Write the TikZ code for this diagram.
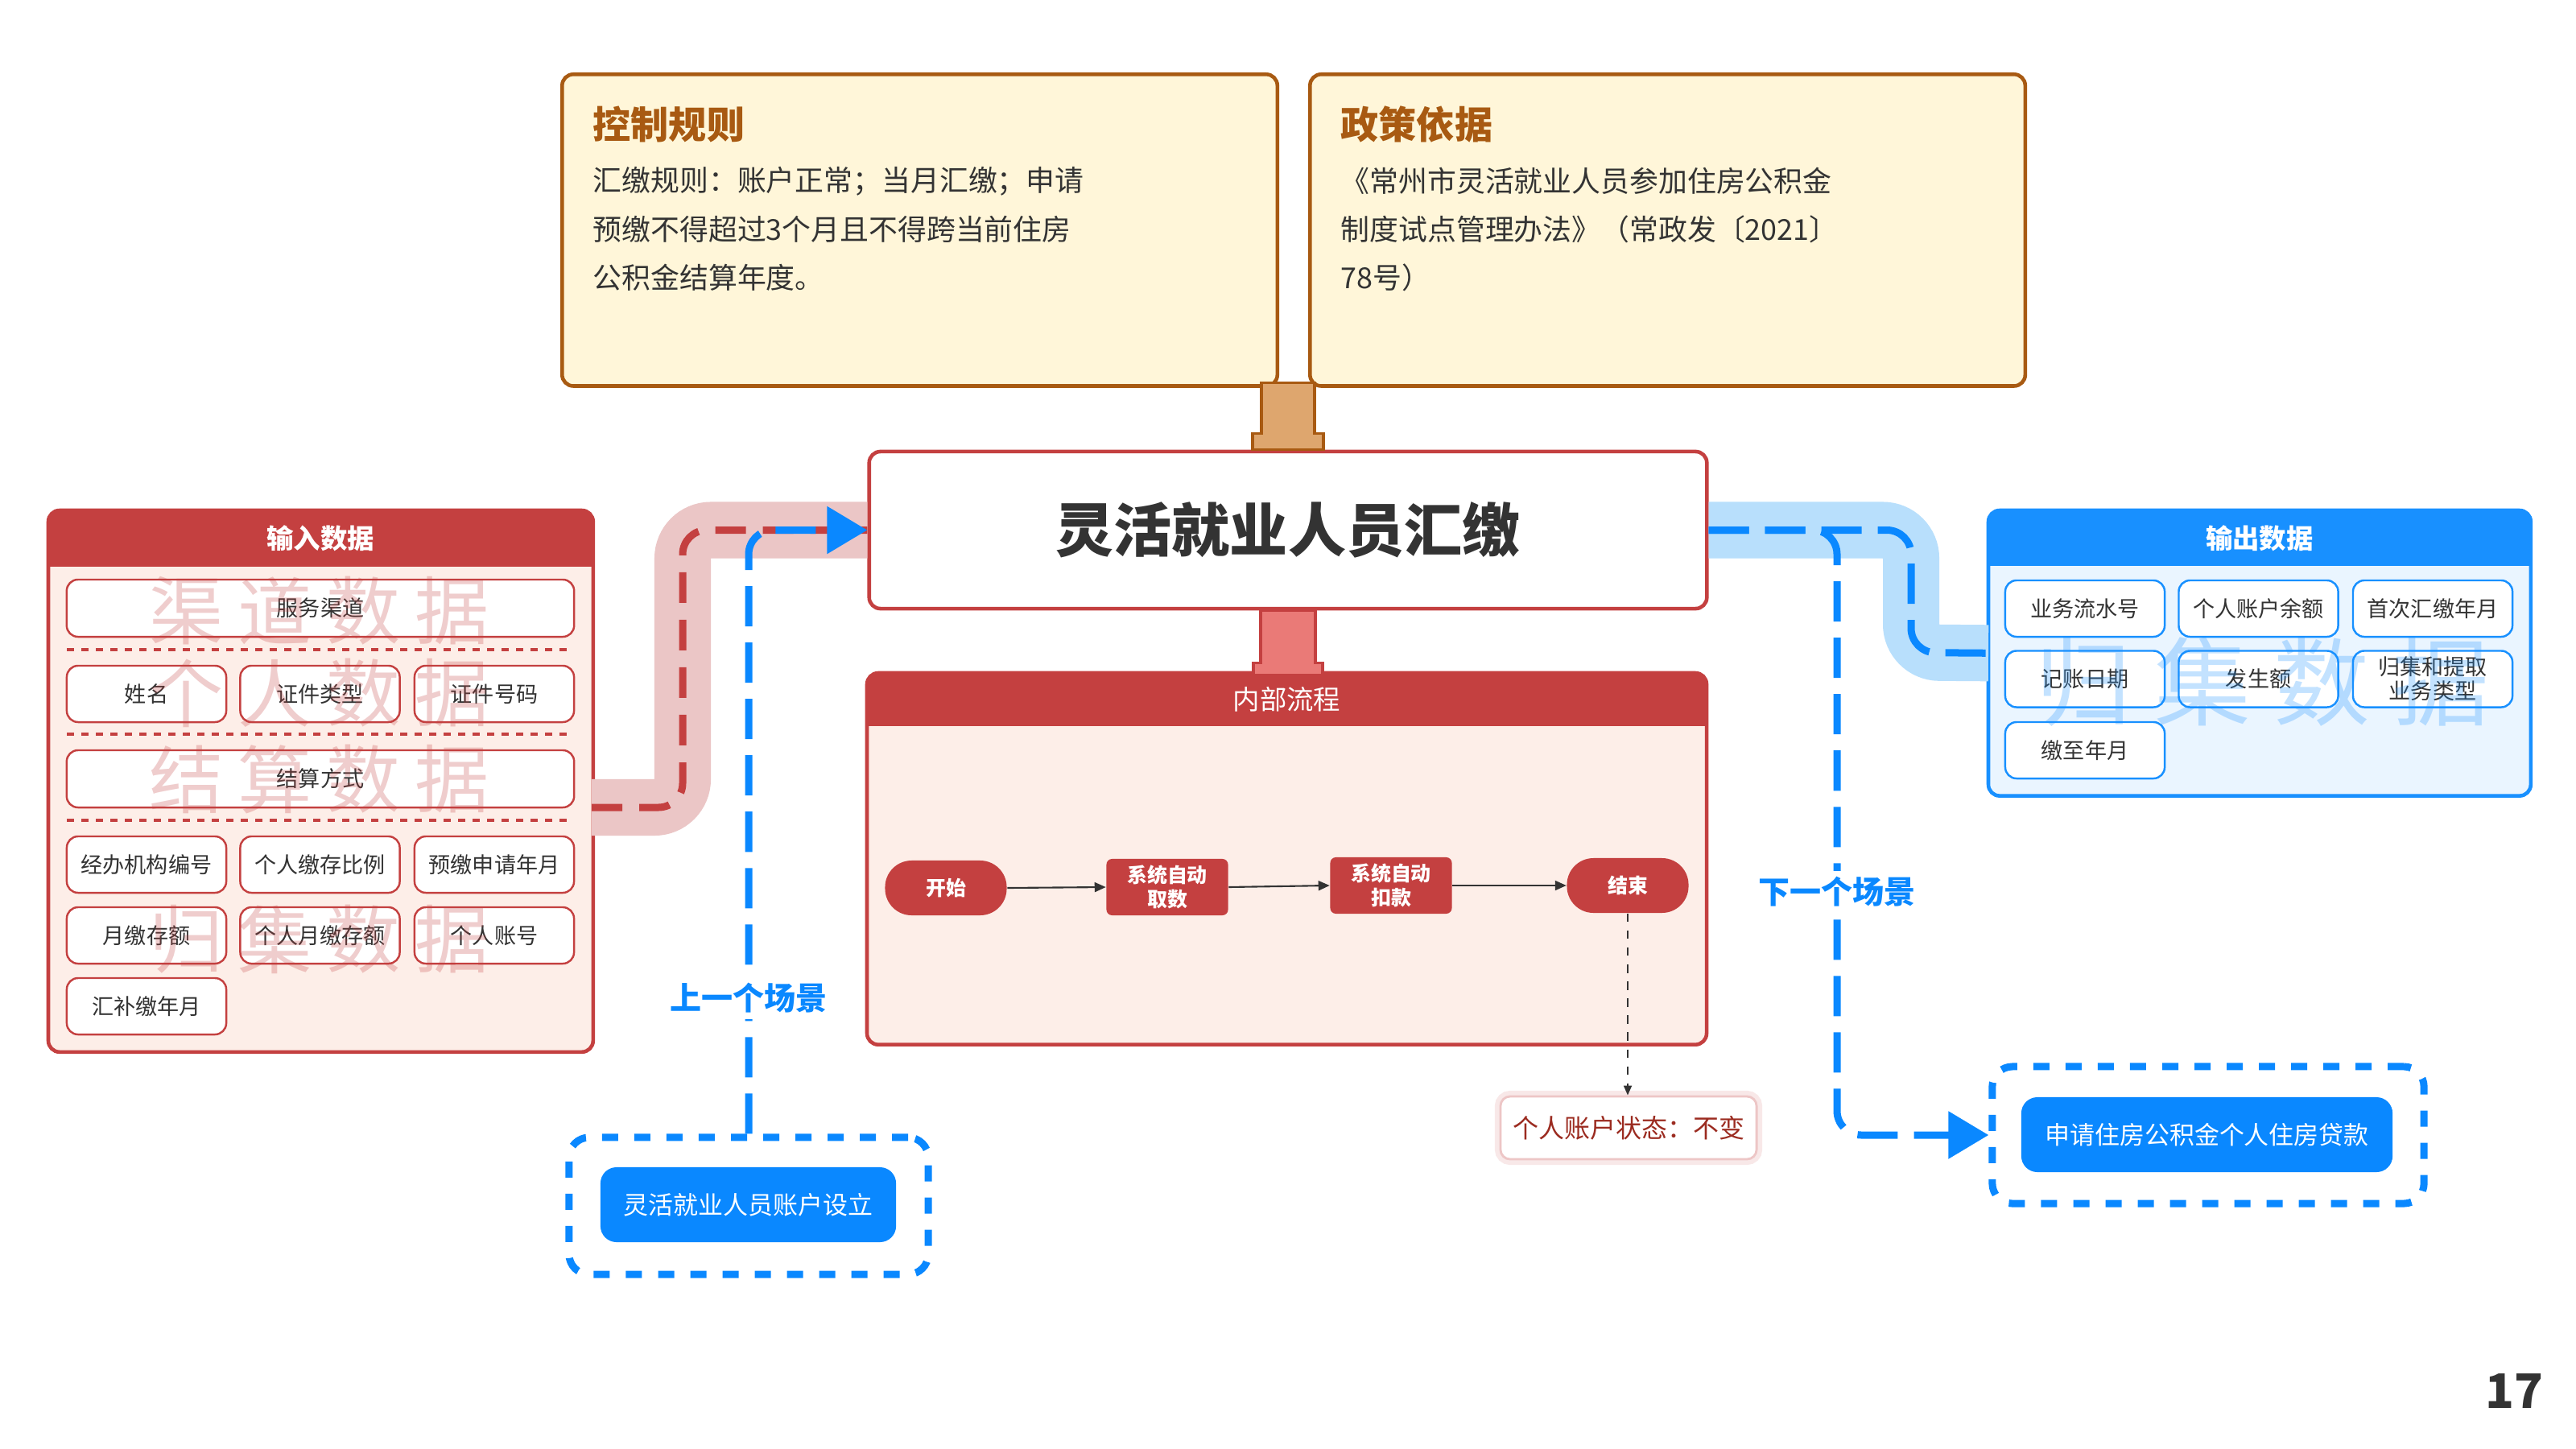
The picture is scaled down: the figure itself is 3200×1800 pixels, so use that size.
\documentclass[tikz,border=0pt]{standalone}
\usepackage{fontspec}
\setmainfont{Noto Sans CJK SC}
\usetikzlibrary{arrows.meta,calc}
\definecolor{cred}{HTML}{C44040}
\definecolor{cpink}{HTML}{FDEEE8}
\definecolor{cband}{HTML}{EBC6C6}
\definecolor{cbrown}{HTML}{A85A12}
\definecolor{cyellow}{HTML}{FFF6D9}
\definecolor{ctan}{HTML}{DEA66E}
\definecolor{csalmon}{HTML}{EA7A77}
\definecolor{cblue}{HTML}{1890FF}
\definecolor{cbtn}{HTML}{0A88FF}
\definecolor{cbluebg}{HTML}{EAF5FF}
\definecolor{cbandb}{HTML}{B8DFFC}
\definecolor{ctext}{HTML}{333333}
\definecolor{cdred}{HTML}{9B2B20}
\begin{document}
\begin{tikzpicture}[x=0.01cm,y=-0.01cm,
  rulebox/.style={draw=cbrown, line width=1.3pt, fill=cyellow, rounded corners=0.14cm, minimum width=8.88cm, minimum height=3.87cm, inner sep=0, anchor=north west},
  ruletitle/.style={anchor=west, inner sep=0, text=cbrown, font=\fontsize{13.4}{16}\selectfont\bfseries},
  rulebody/.style={anchor=west, inner sep=0, text=ctext, font=\fontsize{10.2}{12}\selectfont},
  headtext/.style={text=white, inner sep=0, font=\fontsize{9.5}{11}\selectfont\bfseries},
  pill/.style={fill=cred, rounded corners=0.33cm, minimum width=1.51cm, minimum height=0.68cm, text=white, font=\fontsize{7.1}{8.6}\selectfont\bfseries, inner sep=0, align=center},
  flowbox/.style={fill=cred, rounded corners=0.07cm, minimum width=1.51cm, minimum height=0.70cm, text=white, font=\fontsize{7.1}{8.6}\selectfont\bfseries, inner sep=0, align=center},
  flowarrow/.style={draw=ctext, line width=0.6pt, -{Triangle[length=0.14cm,width=0.12cm]}},
  initem/.style={fill=white, draw=cred, line width=0.7pt, rounded corners=0.14cm, text=ctext, font=\fontsize{7.7}{8.6}\selectfont, inner sep=0, align=center, minimum width=1.98cm, minimum height=0.70cm},
  outitem/.style={initem, draw=cblue},
  sepline/.style={draw=cred, line width=0.9pt, dash pattern=on 0.09cm off 0.09cm},
  wmred/.style={text=cred, opacity=0.26, inner sep=0, font=\fontsize{26.2}{28}\selectfont},
  wmblue/.style={text=cblue, opacity=0.26, inner sep=0, font=\fontsize{34}{36}\selectfont},
  bdash/.style={draw=cbtn, line width=0.09cm, dash pattern=on 0.5cm off 0.2cm, rounded corners=0.3cm},
  rdash/.style={draw=cred, line width=0.09cm, dash pattern=on 0.38cm off 0.21cm, rounded corners=0.3cm},
  bigtip/.style={-{Triangle[length=0.5cm,width=0.57cm]}},
  dbox/.style={draw=cbtn, line width=0.09cm, dash pattern=on 0.2cm off 0.2cm, rounded corners=0.25cm, minimum width=#1, inner sep=0, minimum height=1.70cm},
  btn/.style={fill=cbtn, rounded corners=0.2cm, text=white, inner sep=0, minimum height=0.93cm, font=\fontsize{8.8}{10}\selectfont},
  scenelabel/.style={text=cbtn, fill=white, inner sep=2pt, font=\fontsize{11.1}{13}\selectfont\bfseries},
  statebox/.style={fill=white, draw=cred!30, line width=0.8pt, rounded corners=0.12cm, minimum width=3.18cm, minimum height=0.78cm, inner sep=0, text=cdred, font=\fontsize{9.1}{11}\selectfont, preaction={draw=cred!12, line width=4pt}}
]
\useasboundingbox[fill=white] (0,0) rectangle (3200,1800);

% ---------- rule boxes ----------
\node[rulebox] (ctrl) at (696,90) {};
\node[ruletitle] (ctrlt) at (736,154) {控制规则};
\node[rulebody] (ctrl1) at (736,225) {汇缴规则：账户正常；当月汇缴；申请};
\node[rulebody] (ctrl2) at (736,285) {预缴不得超过3个月且不得跨当前住房};
\node[rulebody] (ctrl3) at (736,345) {公积金结算年度。};
\node[rulebox] (pol) at (1625,90) {};
\node[ruletitle] (polt) at (1665,154) {政策依据};
\node[rulebody] (pol1) at (1665,225) {《常州市灵活就业人员参加住房公积金};
\node[rulebody] (pol2) at (1665,285) {制度试点管理办法》（常政发〔2021〕};
\node[rulebody] (pol3) at (1665,345) {78号）};

% ---------- main box ----------
\node[draw=cred, line width=1.3pt, fill=white, rounded corners=0.14cm, minimum width=10.40cm, minimum height=1.95cm, inner sep=0, font=\fontsize{20.5}{24}\selectfont\bfseries, text=ctext] (main) at (1600,658.5) {灵活就业人员汇缴};

% tan link
\draw[cbrown, fill=ctan, line width=1pt] ($(main.north)+(-33,-83)$) -- ($(main.north)+(33,-83)$) -- ($(main.north)+(33,-20)$) -- ($(main.north)+(44,-20)$) -- ($(main.north)+(44,0)$) -- ($(main.north)+(-44,0)$) -- ($(main.north)+(-44,-20)$) -- ($(main.north)+(-33,-20)$) -- cycle;

% ---------- process container ----------
\node[inner sep=0, minimum width=10.41cm, minimum height=4.60cm, anchor=north west, fill=cpink, rounded corners=0.14cm] (proc) at (1077,836) {};
\begin{scope}
\clip[rounded corners=0.14cm] (proc.north west) rectangle (proc.south east);
\fill[cred] (proc.north west) rectangle ($(proc.north east)+(0,66)$);
\end{scope}
\draw[cred, line width=1.3pt, rounded corners=0.14cm] (proc.north west) rectangle (proc.south east);
\node[headtext, font=\fontsize{9.5}{11}\selectfont] (proct) at ($(proc.north)+(0,33)$) {内部流程};

% red link
\draw[cred, fill=csalmon, line width=1pt] ($(main.south)+(-34,0)$) -- ($(main.south)+(34,0)$) -- ($(main.south)+(34,65)$) -- ($(main.south)+(43,65)$) -- ($(main.south)+(43,80)$) -- ($(main.south)+(-43,80)$) -- ($(main.south)+(-43,65)$) -- ($(main.south)+(-34,65)$) -- cycle;

% flow
\node[pill] (start) at (1175,1103) {开始};
\node[flowbox] (take) at (1450,1102) {系统自动\\取数};
\node[flowbox] (deduct) at (1728,1100) {系统自动\\扣款};
\node[pill] (fin) at (2022,1100) {结束};
\draw[flowarrow] (start.east) -- (take.west);
\draw[flowarrow] (take.east) -- (deduct.west);
\draw[flowarrow] (deduct.east) -- (fin.west);
\node[statebox] (state) at (2023,1401) {个人账户状态：不变};
\draw[ctext, dashed, line width=0.5pt, -{Triangle[length=0.12cm,width=0.1cm]}] (fin.south) -- (fin.south |- state.north);

% ---------- input container ----------
\node[inner sep=0, minimum width=6.75cm, minimum height=6.71cm, anchor=north west, fill=cpink, rounded corners=0.14cm] (inbox) at (60,634) {};
\begin{scope}
\clip[rounded corners=0.14cm] (inbox.north west) rectangle (inbox.south east);
\fill[cred] (inbox.north west) rectangle ($(inbox.north east)+(0,70)$);
\end{scope}
\draw[cred, line width=1.3pt, rounded corners=0.14cm] (inbox.north west) rectangle (inbox.south east);
\node[headtext] (int) at ($(inbox.north)+(0,35)$) {输入数据};

\node[initem, minimum width=6.30cm, minimum height=0.71cm] (i1) at (398,755.5) {服务渠道};
\draw[sepline] (83,807) -- (713,807);
\node[initem] (i2) at (182,862) {姓名};
\node[initem] (i3) at (397.5,862) {证件类型};
\node[initem] (i4) at (614,862) {证件号码};
\draw[sepline] (83,912) -- (713,912);
\node[initem, minimum width=6.30cm, minimum height=0.71cm] (i5) at (398,967.5) {结算方式};
\draw[sepline] (83,1019) -- (713,1019);
\node[initem] (i6) at (182,1074) {经办机构编号};
\node[initem] (i7) at (397.5,1074) {个人缴存比例};
\node[initem] (i8) at (614,1074) {预缴申请年月};
\node[initem] (i9) at (182,1162) {月缴存额};
\node[initem] (i10) at (397.5,1162) {个人月缴存额};
\node[initem] (i11) at (614,1162) {个人账号};
\node[initem] (i12) at (182,1250) {汇补缴年月};

\foreach \c [count=\i] in {渠,道,数,据} \node[wmred] (wa\i) at ({122+110*\i},759) {\c};
\foreach \c [count=\i] in {个,人,数,据} \node[wmred] (wb\i) at ({122+110*\i},861) {\c};
\foreach \c [count=\i] in {结,算,数,据} \node[wmred] (wc\i) at ({122+110*\i},968) {\c};
\foreach \c [count=\i] in {归,集,数,据} \node[wmred] (wd\i) at ({122+110*\i},1167) {\c};

% ---------- output container ----------
\node[inner sep=0, minimum width=6.72cm, minimum height=3.53cm, anchor=north west, fill=cbluebg, rounded corners=0.14cm] (outbox) at (2470,634) {};
\begin{scope}
\clip[rounded corners=0.14cm] (outbox.north west) rectangle (outbox.south east);
\fill[cblue] (outbox.north west) rectangle ($(outbox.north east)+(0,69)$);
\end{scope}
\draw[cblue, line width=1.3pt, rounded corners=0.14cm] (outbox.north west) rectangle (outbox.south east);
\node[headtext] (outt) at ($(outbox.north)+(0,35)$) {输出数据};

\node[outitem] (o1) at (2590,756) {业务流水号};
\node[outitem] (o2) at (2805.5,756) {个人账户余额};
\node[outitem] (o3) at (3022,756) {首次汇缴年月};
\node[outitem] (o4) at (2590,843.5) {记账日期};
\node[outitem] (o5) at (2805.5,843.5) {发生额};
\node[outitem] (o6) at (3022,843.5) {归集和提取\\业务类型};
\node[outitem] (o7) at (2590,932) {缴至年月};
\foreach \c [count=\i] in {归,集,数,据} \node[wmblue] (we\i) at ({2440+148*\i},847) {\c};

% ---------- bands ----------
\coordinate (inlink) at (735,1003);
\draw[cband, line width=0.7cm, rounded corners=0.35cm] (inlink) -- (848,1003) -- (848,658.5) -- (main.west);
\draw[rdash] (inlink) -- (848,1003) -- (848,658.5) -- (main.west);
\draw[cbandb, line width=0.7cm, rounded corners=0.35cm] (main.east) -- (2374,658.5) -- (2374,810.5) -- (outbox.west);
\draw[bdash] (main.east) -- (2374,658.5) -- (2374,810.5) -- (outbox.west);

% ---------- scenes ----------
\node[dbox=4.46cm] (prevout) at (930,1498) {};
\node[btn, minimum width=3.67cm] (prevbtn) at (929.5,1496.5) {灵活就业人员账户设立};
\node[dbox=5.36cm] (nextout) at (2743,1410) {};
\node[btn, minimum width=4.61cm] (nextbtn) at (2741.5,1409.5) {申请住房公积金个人住房贷款};

\draw[bdash, bigtip] (prevout.north) |- (main.west);
\draw[bdash, bigtip] (main.east) -- (2282,658.5) |- (nextout.west);
\node[scenelabel] (prevlbl) at (930,1240) {上一个场景};
\node[scenelabel] (nextlbl) at (2282,1108) {下一个场景};

\node[font=\fontsize{16.8}{20}\selectfont\bfseries, text=ctext, inner sep=0] (pnum) at (3123,1728) {17};
\end{tikzpicture}
\end{document}
